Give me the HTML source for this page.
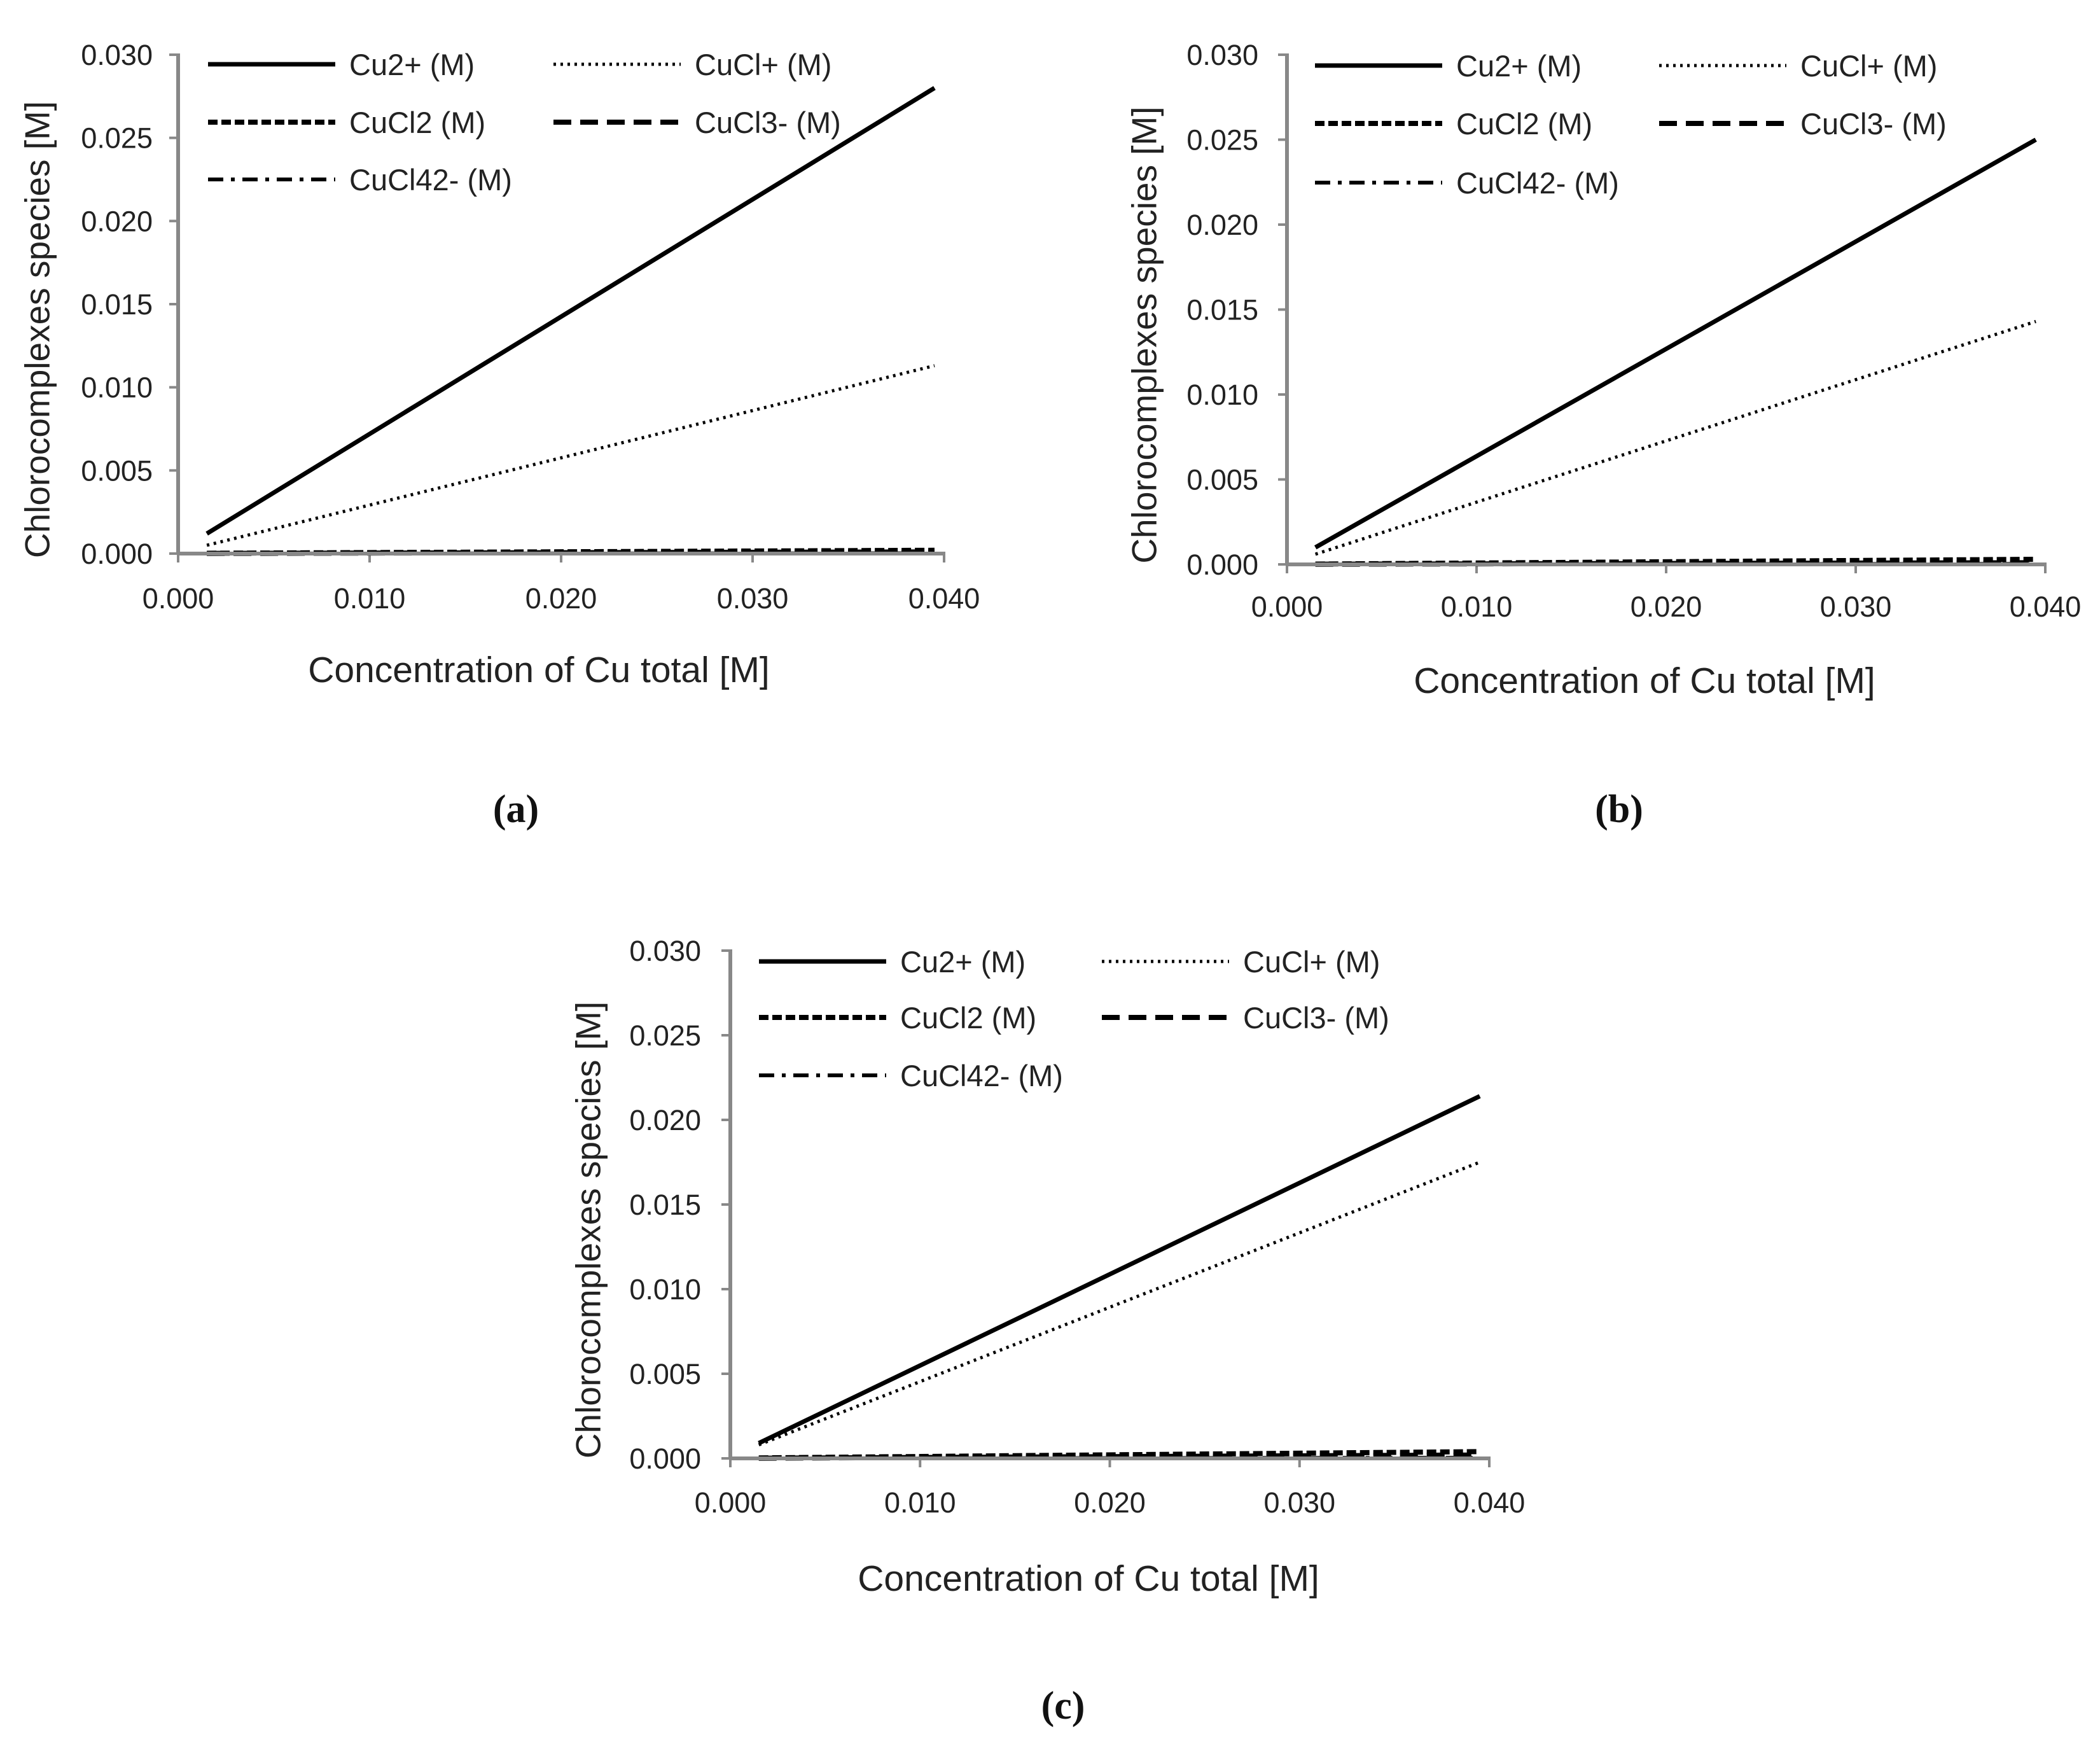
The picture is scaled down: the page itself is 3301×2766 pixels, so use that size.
<!DOCTYPE html>
<html><head><meta charset="utf-8"><style>
html,body{margin:0;padding:0;background:#fff;}
svg{display:block;font-family:"Liberation Sans",sans-serif;}
</style></head><body>
<svg id="fig" width="3301" height="2766" viewBox="0 0 3301 2766" xmlns="http://www.w3.org/2000/svg"></svg>
<script>
const xTicks = [0, 0.01, 0.02, 0.03, 0.04];
const xTickLabels = ["0.000","0.010","0.020","0.030","0.040"];
const yTicks = [0, 0.005, 0.01, 0.015, 0.02, 0.025, 0.03];
const yTickLabels = ["0.000","0.005","0.010","0.015","0.020","0.025","0.030"];
const seriesNames = ["Cu2+ (M)","CuCl+ (M)","CuCl2 (M)","CuCl3- (M)","CuCl42- (M)"];
const xValues = [0.0015, 0.0395];
const aCu2 = [0.0012, 0.0280];
const aCuCl = [0.0005, 0.0113];
const aCuCl2 = [0.00002, 0.0002];
const aCuCl3 = [0.00001, 0.0001];
const aCuCl4 = [0.0, 0.00002];
const bCu2 = [0.0010, 0.0250];
const bCuCl = [0.0006, 0.0143];
const bCuCl2 = [0.00002, 0.0003];
const bCuCl3 = [0.00001, 0.0001];
const bCuCl4 = [0.0, 0.00003];
const cCu2 = [0.0009, 0.0214];
const cCuCl = [0.0008, 0.0175];
const cCuCl2 = [0.00003, 0.0004];
const cCuCl3 = [0.00001, 0.0002];
const cCuCl4 = [0.0, 0.00004];

const NS="http://www.w3.org/2000/svg";
const svg=document.getElementById('fig');
function mk(tag,attrs,parent,text){const e=document.createElementNS(NS,tag);for(const k in attrs)e.setAttribute(k,attrs[k]);if(text!==undefined)e.textContent=text;(parent||svg).appendChild(e);return e;}
const styles=[
 {w:7,dash:""},
 {w:5,dash:"4 7"},
 {w:8,dash:"15 6"},
 {w:8,dash:"28 14"},
 {w:6,dash:"24 12 6 12"}
];
const panels=[
 {id:"a",x0:280,x1:1484,y0:870,y1:86,series:[aCu2,aCuCl,aCuCl2,aCuCl3,aCuCl4],
  leg:{l1:327,l2:870,rows:[101,192,282]},ylab:63,tickR:240,xlY:956,xtY:1072,xtX:847,cap:[811,1292]},
 {id:"b",x0:2023,x1:3215,y0:887,y1:86,series:[bCu2,bCuCl,bCuCl2,bCuCl3,bCuCl4],
  leg:{l1:2067,l2:2608,rows:[103,194,287]},ylab:1803,tickR:1978,xlY:969,xtY:1089,xtX:2585,cap:[2545,1292]},
 {id:"c",x0:1148,x1:2341,y0:2292,y1:1494,series:[cCu2,cCuCl,cCuCl2,cCuCl3,cCuCl4],
  leg:{l1:1193,l2:1732,rows:[1511,1599,1690]},ylab:929,tickR:1102,xlY:2377,xtY:2500,xtX:1711,cap:[1671,2701]}
];
panels.forEach(p=>{
 const g=mk('g',{});
 
 
 const sx=v=>p.x0+(v-xTicks[0])/(xTicks[xTicks.length-1]-xTicks[0])*(p.x1-p.x0);
 const sy=v=>p.y0-(v-yTicks[0])/(yTicks[yTicks.length-1]-yTicks[0])*(p.y0-p.y1);
 const yax=mk('line',{x1:p.x0,y1:sy(0.03)-2,x2:p.x0,y2:p.y0+2,stroke:'#888',"stroke-width":6},g);
 
 yTicks.forEach((t,i)=>{
  mk('line',{x1:p.x0-14,y1:sy(t),x2:p.x0,y2:sy(t),stroke:'#888',"stroke-width":4},g);
  const tl=mk('text',{x:p.tickR,y:sy(t)+16,"text-anchor":"end","font-size":45,fill:'#222'},g,yTickLabels[i]);
  
 });
 xTicks.forEach((t,i)=>{
  mk('line',{x1:sx(t),y1:p.y0,x2:sx(t),y2:p.y0+14,stroke:'#888',"stroke-width":4},g);
  const tl=mk('text',{x:sx(t),y:p.xlY,"text-anchor":"middle","font-size":45,fill:'#222'},g,xTickLabels[i]);
  
 });
 for(let s=4;s>=0;s--){
  const vals=p.series[s];
  const pts=xValues.map((x,i)=>sx(x)+','+sy(vals[i])).join(' ');
  const pl=mk('polyline',{points:pts,fill:'none',stroke:'#000',"stroke-width":styles[s].w,"stroke-dasharray":styles[s].dash},g);
  
  
 }
 const xax=mk('line',{x1:p.x0,y1:p.y0,x2:p.x1+2,y2:p.y0,stroke:'#888',"stroke-width":6},g);
 
 const slots=[[p.leg.l1,0],[p.leg.l2,0],[p.leg.l1,1],[p.leg.l2,1],[p.leg.l1,2]];
 slots.forEach((sl,i)=>{
  const y=p.leg.rows[sl[1]];
  const le=mk('g',{},g);
  
  mk('line',{x1:sl[0],y1:y,x2:sl[0]+200,y2:y,stroke:'#000',"stroke-width":styles[i].w,"stroke-dasharray":styles[i].dash},le);
  mk('text',{x:sl[0]+222,y:y+17,"font-size":47,fill:'#222'},le,seriesNames[i]);
 });
 const cy=(p.y0+p.y1)/2+40;
 const yt=mk('text',{x:p.ylab,y:cy,transform:`rotate(-90 ${p.ylab} ${cy})`,"text-anchor":"middle","dominant-baseline":"middle","font-size":55,fill:'#222'},g,"Chlorocomplexes species [M]");
 
 const xt=mk('text',{x:p.xtX,y:p.xtY,"text-anchor":"middle","font-size":57,fill:'#222'},g,"Concentration of Cu total [M]");
 
 const cp=mk('text',{x:p.cap[0],y:p.cap[1],"text-anchor":"middle","font-size":62,"font-weight":"bold",fill:'#111',"font-family":"Liberation Serif, serif"},g,"("+p.id+")");
 
});
</script>
</body></html>
